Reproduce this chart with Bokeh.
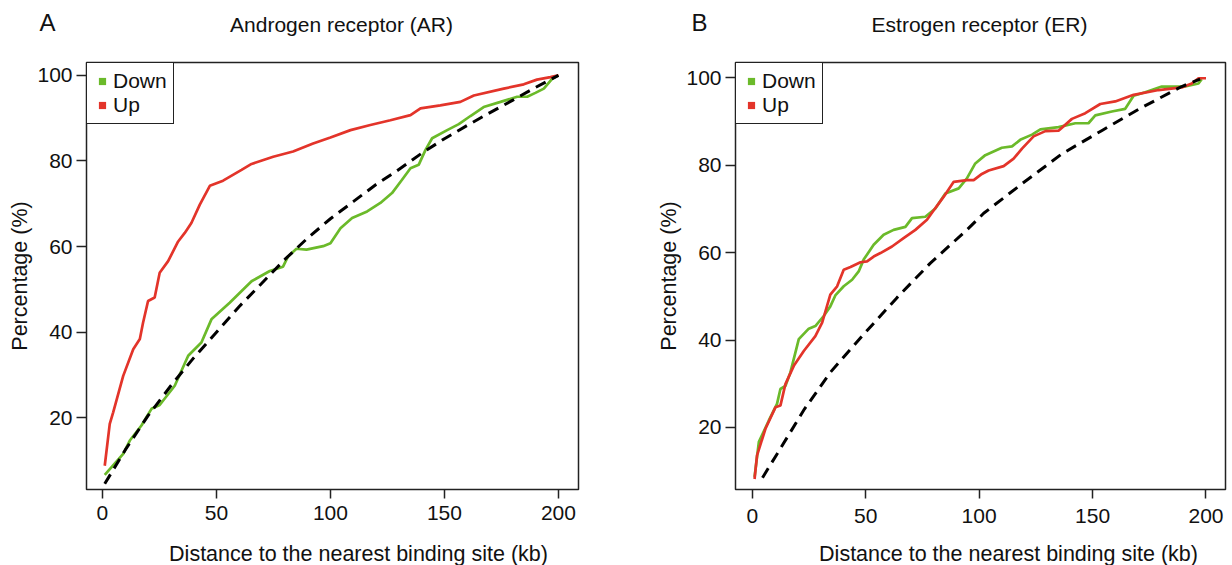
from bokeh.plotting import figure
from bokeh.layouts import row, column
from bokeh.models import FixedTicker, Legend, LegendItem
from bokeh.core.properties import value
from bokeh.embed import file_html
from bokeh.resources import INLINE

# ---------------- data ----------------
X_TICKS = [0, 50, 100, 150, 200]
Y_TICKS = [20, 40, 60, 80, 100]
X_LABEL = "Distance to the nearest binding site (kb)"
Y_LABEL = "Percentage (%)"
SERIES = ["Down", "Up"]
PANEL_LETTERS = ["A", "B"]
PANEL_TITLES = ["Androgen receptor (AR)", "Estrogen receptor (ER)"]

# Panel A: Androgen receptor (AR)
A_down_x = [1, 9.1, 12, 17.1, 21.5, 25.1, 31.7, 37.6, 43.4, 47.8, 55.8, 65.4, 73.4, 79.2, 81.4,
            85.1, 89.5, 96.8, 100, 104.4, 109.5, 116.1, 121.9, 127, 131.4, 135.1, 138.7, 141.7,
            144.6, 151.2, 156.3, 161.4, 167.2, 174.6, 181.9, 186.3, 189.9, 193.6, 197.2, 200]
A_down_y = [6.7, 11.6, 14.7, 18.2, 22.1, 23.0, 27.5, 34.5, 37.6, 43.0, 46.9, 51.9, 54.3, 55.3, 57.7,
            59.5, 59.3, 60.1, 60.8, 64.3, 66.7, 68.2, 70.2, 72.5, 75.6, 78.3, 79.1, 82.6,
            85.3, 87.2, 88.6, 90.5, 92.6, 93.8, 95.0, 95.0, 95.9, 96.9, 99.2, 100]
A_up_x = [1, 3.2, 4.7, 9.1, 13.5, 16.4, 17.8, 20, 22.9, 25.1, 28.8, 33.2, 36.1, 39, 42.7, 47.1,
          52.9, 61, 65.4, 74.9, 83.6, 92.4, 100, 108.8, 117.5, 126.3, 135.1, 139.5, 148.2, 157,
          162.9, 176, 184.8, 190.6, 196.5, 200]
A_up_y = [8.8, 18.6, 21.3, 29.8, 36.0, 38.4, 42.2, 47.3, 48.1, 53.9, 56.6, 61.2, 63.2, 65.5, 69.8, 74.2,
          75.4, 77.9, 79.3, 81.0, 82.2, 84.1, 85.5, 87.2, 88.4, 89.5, 90.7, 92.3, 93.0, 93.8,
          95.3, 96.9, 97.9, 99.0, 99.6, 100]
A_exp_x = [1, 10, 20, 30, 40, 50, 60, 70, 80, 90, 100, 110, 120, 130, 140, 150, 160, 170, 180, 190, 200]
A_exp_y = [4.6, 12.5, 20.5, 27.5, 34, 40, 46, 51.5, 57, 62, 66.5, 70.5, 74.5, 78, 81.8, 85.2, 88.3,
           91.3, 94.2, 97.2, 100]

# Panel B: Estrogen receptor (ER)
B_down_x = [1, 2.9, 7.3, 10.9, 12.4, 14.6, 16.8, 20.5, 24.9, 27.8, 31.5, 34.4, 36.6, 40.3, 44, 46.9,
            49.1, 53.5, 57.9, 62.3, 67.5, 70.4, 76.3, 80.7, 85.1, 91, 94.6, 98.3, 102.7, 110, 114.5,
            118.1, 123.3, 127, 135, 142.4, 148.2, 151.2, 158.5, 164.4, 168.1, 173.2, 180.5, 190.8,
            196.7, 198.1]
B_down_y = [8.7, 16.7, 21.6, 25.4, 28.8, 29.5, 32.6, 40.2, 42.6, 43.2, 45.5, 47.7, 50.2, 52.3, 53.8, 55.7,
            58.4, 61.8, 64.1, 65.2, 65.9, 67.9, 68.2, 70.1, 73.5, 74.7, 77.0, 80.4, 82.3, 84.0, 84.3,
            85.8, 87.0, 88.2, 88.7, 89.6, 89.6, 91.4, 92.3, 92.9, 95.9, 96.7, 98.0, 98.0,
            98.7, 99.7]
B_up_x = [1, 2.1, 5.8, 10.2, 12.4, 14.6, 18.3, 22.7, 27.8, 30.8, 34.4, 37.4, 40.3, 43.3, 47.7, 50.6,
          53.5, 56.5, 61.6, 66.7, 71.9, 77, 80, 84.4, 88.8, 94.6, 97.6, 101.2, 104.2, 110.8, 115.2,
          118.9, 124, 129.2, 135, 140.9, 146.8, 153.4, 160, 168.1, 179.1, 189.3, 193.7, 196.7, 200]
B_up_y = [8.2, 13.6, 19.7, 24.6, 25.0, 29.9, 34.1, 37.5, 40.9, 44.0, 50.4, 52.3, 56.1, 56.7, 57.8, 58.0,
          59.1, 59.9, 61.4, 63.3, 65.2, 67.5, 69.7, 72.8, 76.2, 76.6, 76.6, 78.0, 78.8, 79.8, 81.5,
          83.8, 86.6, 87.8, 87.9, 90.6, 91.9, 94.0, 94.6, 96.1, 97.2, 97.8, 98.7, 99.9, 99.9]
B_exp_x = [4.5, 11, 23, 34.4, 48.4, 63.8, 78.5, 94.6, 102, 119, 136.5, 154, 171.7, 189.3, 197.4]
B_exp_y = [8.5, 14, 24.2, 32.6, 40.9, 49.7, 57.6, 65.2, 69, 75.8, 82.6, 87.9, 93.2, 98, 99.7]

# ---------------- style / layout ----------------
FONT = "Liberation Sans"
GREEN = "#6BBA2A"
RED = "#E3342A"
INK = "#222222"
TXT = "#111111"
W_A, W_B = 580, 647
TOTAL_W = W_A + W_B
HEAD_H = 40
FOOT_H = 30
MAIN_H = 565 - HEAD_H - FOOT_H


def text_strip(height):
    s = figure(width=TOTAL_W, height=height, x_range=(0, TOTAL_W), y_range=(height, 0),
               output_backend="svg", toolbar_location=None, title=None,
               x_axis_location=None, y_axis_location=None, min_border=0,
               outline_line_color=None)
    s.grid.visible = False
    return s


header = text_strip(HEAD_H)
header.text(x=[47, 699], y=[22, 22], text=PANEL_LETTERS, text_font=value(FONT),
            text_font_size="24px", text_align="center", text_baseline="middle", text_color=TXT)
header.text(x=[341, 979], y=[24, 24], text=PANEL_TITLES, text_font=value(FONT),
            text_font_size="21px", text_align="center", text_baseline="middle", text_color=TXT)

footer = text_strip(FOOT_H)
footer.text(x=[358, 1008], y=[18, 18], text=[X_LABEL, X_LABEL], text_font=value(FONT),
            text_font_size="21.5px", text_align="center", text_baseline="middle", text_color=TXT)


def make_panel(dx, dy, ux, uy, ex, ey, width, borders, xr, yr, xlab_standoff):
    bl, br, bt, bb = borders
    p = figure(width=width, height=MAIN_H, x_range=xr, y_range=yr, title=None,
               output_backend="svg", toolbar_location=None,
               min_border_left=bl, min_border_right=br, min_border_top=bt, min_border_bottom=bb)
    p.grid.visible = False
    p.outline_line_color = INK
    p.outline_line_width = 1.5
    p.outline_line_alpha = 1.0
    p.background_fill_color = "white"
    p.border_fill_color = "white"

    for ax, ticks in ((p.xaxis, X_TICKS), (p.yaxis, Y_TICKS)):
        ax.ticker = FixedTicker(ticks=ticks)
        ax.axis_line_color = None
        ax.major_tick_line_color = INK
        ax.major_tick_line_width = 1.5
        ax.major_tick_in = 0
        ax.minor_tick_line_color = None
        ax.major_label_text_font = FONT
        ax.major_label_text_font_size = "21px"
        ax.major_label_text_color = TXT
        ax.axis_label_text_font = FONT
        ax.axis_label_text_font_size = "21.5px"
        ax.axis_label_text_font_style = "normal"
        ax.axis_label_text_color = TXT
    p.xaxis.major_tick_out = 9
    p.xaxis.major_label_standoff = xlab_standoff
    p.yaxis.major_tick_out = 10
    p.yaxis.major_label_standoff = 4
    p.yaxis.axis_label_standoff = 2
    p.yaxis.axis_label = Y_LABEL

    p.line(dx, dy, line_color=GREEN, line_width=2.7)
    p.line(ux, uy, line_color=RED, line_width=2.7)
    p.line(ex, ey, line_color="black", line_width=3, line_dash="11 7")

    # square markers used only as legend keys (hidden in the plot area)
    sd = p.scatter(dx, dy, marker="square", size=7, fill_color=GREEN, line_color=None, visible=False)
    su = p.scatter(ux, uy, marker="square", size=7, fill_color=RED, line_color=None, visible=False)
    legend = Legend(items=[LegendItem(label=SERIES[0], renderers=[sd]),
                           LegendItem(label=SERIES[1], renderers=[su])],
                    location="top_left", margin=0, padding=6, spacing=0,
                    glyph_width=18, glyph_height=18, label_standoff=2, label_height=18,
                    label_text_font=FONT, label_text_font_size="21px",
                    label_text_color=TXT, click_policy="none",
                    inactive_fill_alpha=0.0,
                    border_line_color=INK, border_line_width=1.5, border_line_alpha=1.0,
                    background_fill_color="white", background_fill_alpha=1.0)
    p.add_layout(legend)
    return p


pA = make_panel(A_down_x, A_down_y, A_up_x, A_up_y, A_exp_x, A_exp_y,
                W_A, (86, 2, 62 - HEAD_H, 535 - 491), (-7.0, 208.8), (3.26, 103.0), 7)
pB = make_panel(B_down_x, B_down_y, B_up_x, B_up_y, B_exp_x, B_exp_y,
                W_B, (155, 2, 60 - HEAD_H, 535 - 489), (-7.4, 208.6), (5.8, 103.5), 10)

layout = column(header, row(pA, pB), footer)
open("out.html", "w").write(file_html(layout, INLINE))
